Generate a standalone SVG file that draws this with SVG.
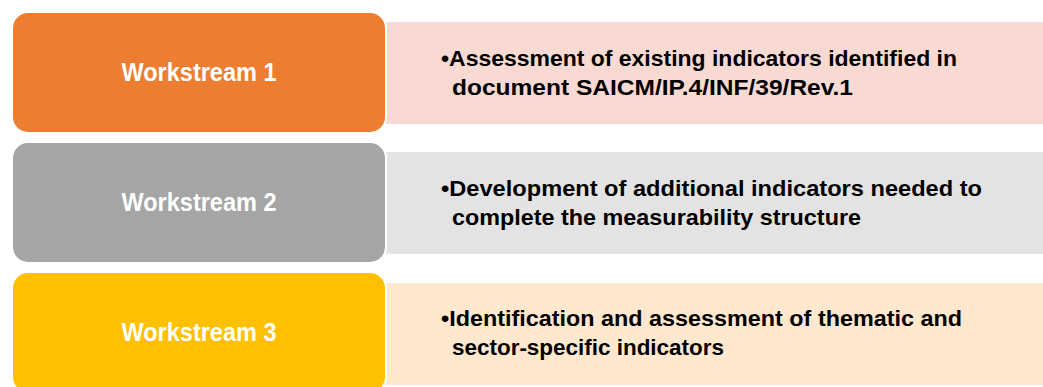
<svg xmlns="http://www.w3.org/2000/svg" width="1043" height="387" viewBox="0 0 1043 387">
<style>
.ws{font-family:"Liberation Sans",Arial,sans-serif;font-weight:bold;font-size:25px;fill:#ffffff;text-anchor:middle}
.tx{font-family:"Liberation Sans",Arial,sans-serif;font-weight:bold;font-size:22px;fill:#000000}
.box{stroke:#ffffff;stroke-width:2}
</style>
<rect width="1043" height="387" fill="#ffffff"/>
<g id="row1">
<rect x="384" y="22" width="659" height="102" fill="#F8DAD3"/>
<rect class="box" x="12" y="12" width="374" height="121" rx="16" fill="#ED7D31"/>
<text class="ws" x="199" y="81" textLength="155" lengthAdjust="spacingAndGlyphs">Workstream 1</text>
<text class="tx" x="441" y="66" textLength="516" lengthAdjust="spacingAndGlyphs">•Assessment of existing indicators identified in</text>
<text class="tx" x="452" y="95" textLength="401" lengthAdjust="spacingAndGlyphs">document SAICM/IP.4/INF/39/Rev.1</text>
</g>
<g id="row2">
<rect x="384" y="152" width="659" height="102" fill="#E3E3E3"/>
<rect class="box" x="12" y="142" width="374" height="121" rx="16" fill="#A5A5A5"/>
<text class="ws" x="199" y="211" textLength="155" lengthAdjust="spacingAndGlyphs">Workstream 2</text>
<text class="tx" x="441" y="196" textLength="541" lengthAdjust="spacingAndGlyphs">•Development of additional indicators needed to</text>
<text class="tx" x="452" y="225" textLength="409" lengthAdjust="spacingAndGlyphs">complete the measurability structure</text>
</g>
<g id="row3">
<rect x="384" y="283" width="659" height="102" fill="#FFE8CD"/>
<rect class="box" x="12" y="272" width="374" height="121" rx="16" fill="#FFC000"/>
<text class="ws" x="199" y="341" textLength="155" lengthAdjust="spacingAndGlyphs">Workstream 3</text>
<text class="tx" x="441" y="326" textLength="521" lengthAdjust="spacingAndGlyphs">•Identification and assessment of thematic and</text>
<text class="tx" x="452" y="355" textLength="272" lengthAdjust="spacingAndGlyphs">sector-specific indicators</text>
</g>
<g id="connectors"/>
</svg>
